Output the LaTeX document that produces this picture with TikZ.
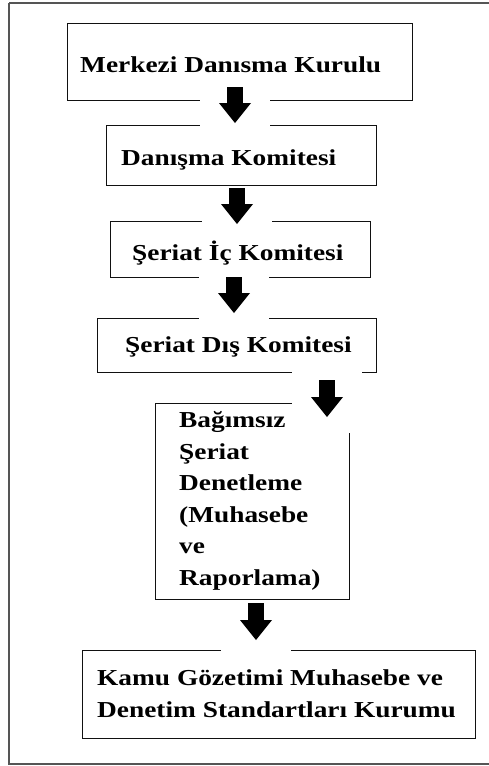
\documentclass[tikz,border=0pt]{standalone}
\usepackage{fontspec}
\setmainfont{Liberation Serif}[FakeStretch=1.2]
\usepackage{tikz}
\usetikzlibrary{arrows.meta,positioning,calc}
\definecolor{framegray}{HTML}{555555}
\definecolor{ink}{HTML}{111111}
\tikzset{
    outerframe/.style={draw=framegray,line width=2pt},
    box/.style={draw=ink,line width=1.2pt,anchor=north west,inner sep=0pt},
    lbl/.style={anchor=base west,inner sep=0pt,text=black,align=left,
      font=\bfseries\fontsize{22.8}{31.5}\selectfont},
    blockarrow/.style 2 args={draw=black,line width=16pt,
      -{Triangle[length=20pt 0 0,width=32pt 0 0,line width=0pt 0 0]},
      preaction={draw=white,line width=70pt,arrows=-,
        shorten <=-#1,shorten >=-#2}}
}
\begin{document}
\begin{tikzpicture}[x=1pt,y=-1pt]
  \useasboundingbox (0,0) rectangle (489,766);
  \draw[outerframe] (9,3) -- (500,3) (9,3) -- (9,764) -- (500,764);
  % boxes
  \node[box,minimum width=345pt,minimum height=77pt] (kurul) at (67,23) {};
  \node[box,minimum width=270pt,minimum height=60pt] (danisma) at (106,125) {};
  \node[box,minimum width=260pt,minimum height=56pt] (ic) at (110,221) {};
  \node[box,minimum width=279pt,minimum height=54pt] (dis) at (97,318) {};
  \node[box,minimum width=194pt,minimum height=196pt] (bagimsiz) at (155,403) {};
  \node[box,minimum width=393pt,minimum height=88pt] (kamu) at (82,650) {};
  % arrows
  \coordinate (a1s) at (235,87);   \coordinate (a1e) at (235,123);
  \coordinate (a2s) at (237,188);  \coordinate (a2e) at (237,224);
  \coordinate (a3s) at (234,277);  \coordinate (a3e) at (234,313);
  \coordinate (a4s) at (327,380);  \coordinate (a4e) at (327,417);
  \coordinate (a5s) at (256,603);  \coordinate (a5e) at (256,640);
  \draw[blockarrow={0pt}{6pt}] (a1s) -- (a1e);
  \draw[blockarrow={0pt}{0pt}] (a2s) -- (a2e);
  \draw[blockarrow={3pt}{8pt}] (a3s) -- (a3e);
  \draw[blockarrow={11pt}{16pt}] (a4s) -- (a4e);
  \draw[blockarrow={0pt}{13pt}] (a5s) -- (a5e);
  % texts (base = last line)
  \node[lbl] (kurul-t) at (80,72) {Merkezi Danısma Kurulu};
  \node[lbl] (danisma-t) at (121,165) {Danışma Komitesi};
  \node[lbl] (ic-t) at (132,260) {Şeriat İç Komitesi};
  \node[lbl] (dis-t) at (125,352) {Şeriat Dış Komitesi};
  \node[lbl] (bagimsiz-t) at (179,585) {Bağımsız\\Şeriat\\Denetleme\\(Muhasebe\\ve\\Raporlama)};
  \node[lbl] (kamu-t) at (97,717) {Kamu Gözetimi Muhasebe ve\\Denetim Standartları Kurumu};
\end{tikzpicture}
\end{document}
